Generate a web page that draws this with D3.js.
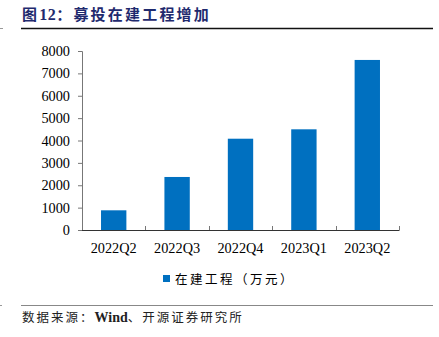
<!DOCTYPE html>
<html>
<head>
<meta charset="utf-8">
<script src="https://cdn.jsdelivr.net/npm/d3@7"></script>
<style>
  html, body { margin: 0; padding: 0; background: #fff; }
  svg { display: block; }
</style>
</head>
<body>
<svg id="chart" width="439" height="337"></svg>
<script>
// Quarterly construction-in-progress values (万元)
const categories = ["2022Q2", "2022Q3", "2022Q4", "2023Q1", "2023Q2"];
const values = [880, 2370, 4080, 4500, 7600];
const yTicks = [0, 1000, 2000, 3000, 4000, 5000, 6000, 7000, 8000];
const titleParts = [["图", "cjk"], ["12", "serif"], ["：", "cjk"], ["募投在建工程增加", "cjk"]];
const legendLabel = "在建工程（万元）";
const sourceParts = [["数据来源：", "cjk"], ["Wind", "serif"], ["、开源证券研究所", "cjk"]];

const svg = d3.select("#chart");
const serif = "'Liberation Serif', 'Times New Roman', serif";
const cjk = "'Noto Sans CJK SC', sans-serif";
const fam = k => (k === "serif" ? serif : cjk);
const barColor = "#0070C0";

// Title and rule under it
const title = svg.append("text")
  .attr("x", 22).attr("y", 20)
  .attr("font-weight", 700)
  .attr("font-size", 15)
  .attr("fill", "#1f2a6e");
title.selectAll("tspan").data(titleParts).join("tspan")
  .attr("font-family", d => fam(d[1]))
  .attr("font-size", d => (d[1] === "serif" ? 16 : 15))
  .attr("letter-spacing", d => (d[1] === "serif" ? 0.5 : 2.2))
  .text(d => d[0]);
svg.append("line").attr("x1", 21).attr("x2", 433).attr("y1", 28.5).attr("y2", 28.5)
  .attr("stroke", "#111").attr("stroke-width", 1.3);
svg.append("line").attr("x1", 0).attr("x2", 3).attr("y1", 28.5).attr("y2", 28.5)
  .attr("stroke", "#999").attr("stroke-width", 1);

// Plot scales
const x = d3.scaleBand().domain(categories).range([82, 399]).paddingInner(0.6).paddingOuter(0.3);
const y = d3.scaleLinear().domain([0, 8000]).range([230, 51]);

// Bars
svg.append("g").selectAll("rect").data(values).join("rect")
  .attr("x", (d, i) => x(categories[i]))
  .attr("width", x.bandwidth())
  .attr("y", d => y(d))
  .attr("height", d => y(0) - y(d))
  .attr("fill", barColor);

// Y axis
const yAxis = svg.append("g").attr("transform", "translate(82,0)")
  .call(d3.axisLeft(y).tickValues(yTicks).tickSize(4).tickPadding(8).tickFormat(d3.format("d")));
yAxis.select(".domain").attr("stroke", "#777").attr("d", "M-4,51.5H0.5V230");
yAxis.selectAll(".tick line").attr("stroke", "#777");
yAxis.selectAll("text").attr("font-family", serif).attr("font-size", 14.3).attr("fill", "#000");

// X axis: category boundaries with short inward ticks
const step = x.step();
const bounds = d3.range(categories.length + 1).map(i => 82 + i * step);
svg.append("line").attr("x1", 82).attr("x2", 399.5).attr("y1", 230.5).attr("y2", 230.5)
  .attr("stroke", "#333").attr("stroke-width", 1);
svg.append("g").selectAll("line").data(bounds.slice(1)).join("line")
  .attr("x1", d => Math.round(d) + 0.5).attr("x2", d => Math.round(d) + 0.5)
  .attr("y1", 230).attr("y2", 226)
  .attr("stroke", "#777");
svg.append("g").selectAll("text").data(categories).join("text")
  .attr("x", d => x(d) + x.bandwidth() / 2)
  .attr("y", 253)
  .attr("text-anchor", "middle")
  .attr("font-family", serif).attr("font-size", 14.3).attr("fill", "#000")
  .text(d => d);

// Legend
svg.append("rect").attr("x", 163).attr("y", 275).attr("width", 7).attr("height", 7).attr("fill", barColor);
svg.append("text").attr("x", 175).attr("y", 284)
  .attr("font-family", cjk).attr("font-size", 12.5).attr("letter-spacing", 2.5)
  .attr("fill", "#000")
  .text(legendLabel);

// Footer rule and source
svg.append("line").attr("x1", 21).attr("x2", 433).attr("y1", 305.5).attr("y2", 305.5)
  .attr("stroke", "#888").attr("stroke-width", 1);
svg.append("line").attr("x1", 0).attr("x2", 2).attr("y1", 305.5).attr("y2", 305.5)
  .attr("stroke", "#999").attr("stroke-width", 1);
const src = svg.append("text").attr("x", 22).attr("y", 322)
  .attr("font-size", 12.5).attr("fill", "#222");
src.selectAll("tspan").data(sourceParts).join("tspan")
  .attr("font-family", d => fam(d[1]))
  .attr("font-size", d => (d[1] === "serif" ? 14 : 12.5))
  .attr("font-weight", d => (d[1] === "serif" ? 600 : 400))
  .attr("letter-spacing", d => (d[1] === "serif" ? 0 : 2))
  .text(d => d[0]);
</script>
</body>
</html>
